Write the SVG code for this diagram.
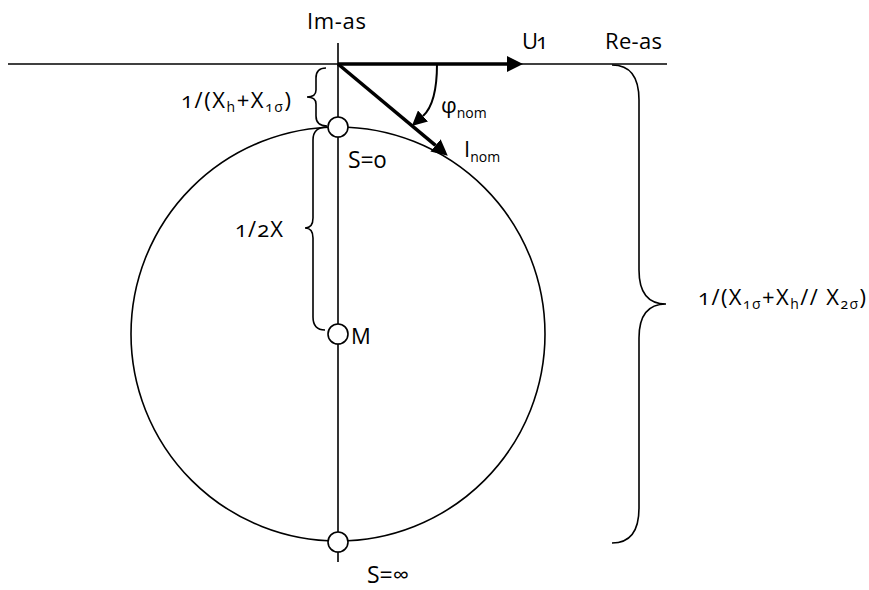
<svg xmlns="http://www.w3.org/2000/svg" width="869" height="590" viewBox="0 0 869 590">
  <style>
    .thin { fill: none; stroke: #000; stroke-width: 1.6; }
    .thick { fill: none; stroke: #000; stroke-width: 3.5; }
    .arc { fill: none; stroke: #000; stroke-width: 2; }
    .pt { fill: #fff; stroke: #000; stroke-width: 1.6; }
    text { font-family: "Open Sans", "Liberation Sans", sans-serif; font-size: 22px; fill: #000; font-variant-numeric: oldstyle-nums; }
    .sub { font-size: 14px; }
    .big { font-size: 23px; }
  </style>
  <defs>
    <marker id="ah" markerUnits="userSpaceOnUse" markerWidth="16" markerHeight="16" viewBox="0 0 15 15" refX="0" refY="7.5" orient="auto">
      <path d="M0,0 L15,7.5 L0,15 z" fill="#000"/>
    </marker>
    <marker id="ahs" markerUnits="userSpaceOnUse" markerWidth="15" markerHeight="15" viewBox="0 0 14 14" refX="0" refY="7" orient="auto">
      <path d="M0,0 L14,7 L0,14 z" fill="#000"/>
    </marker>
  </defs>

  <rect width="869" height="590" fill="#fff"/>

  <g id="axes">
    <line class="thin" x1="8" y1="64" x2="667" y2="64"/>
    <line class="thin" x1="338" y1="43" x2="338" y2="562"/>
    <text x="307" y="29" textLength="59" lengthAdjust="spacing">Im-as</text>
    <text x="605" y="49" textLength="57" lengthAdjust="spacing">Re-as</text>
  </g>

  <g id="circle">
    <circle class="thin" cx="338" cy="334" r="207"/>
  </g>

  <g id="connectors">
    <line class="thick" x1="338" y1="64" x2="507" y2="64" marker-end="url(#ah)"/>
    <line class="thick" x1="338" y1="64" x2="435.5" y2="145.4" marker-end="url(#ah)"/>
    <path class="arc" d="M437,64 C437,90 433,107 423,116" marker-end="url(#ahs)"/>
  </g>

  <g id="point-s0">
    <circle class="pt" cx="338" cy="127" r="10"/>
    <text class="big" x="348" y="168">S=0</text>
  </g>
  <g id="point-m">
    <circle class="pt" cx="338" cy="334" r="10"/>
    <text x="351" y="344">M</text>
  </g>
  <g id="point-sinf">
    <circle class="pt" cx="338" cy="542" r="10"/>
    <text class="big" x="367" y="583">S=∞</text>
  </g>

  <g id="label-u1">
    <text x="522" y="49" textLength="26" lengthAdjust="spacing">U1</text>
  </g>
  <g id="label-phi">
    <text x="441" y="113">φ<tspan class="sub" dy="5">nom</tspan></text>
  </g>
  <g id="label-inom">
    <text x="464" y="157">I<tspan class="sub" dy="5">nom</tspan></text>
  </g>

  <g id="brace-xh">
    <path class="thin" d="M326,68 Q316,68 316,78 L316,90 Q316,97 307,97 Q316,97 316,104 L316,116 Q316,126 327,126"/>
    <text x="181" y="108" textLength="110" lengthAdjust="spacing">1/(X<tspan class="sub" dy="4">h</tspan><tspan dy="-4">+X</tspan><tspan class="sub" dy="4">1σ</tspan><tspan dy="-4">)</tspan></text>
  </g>

  <g id="brace-half">
    <path class="thin" d="M327,127 Q313,127 313,140 L313,218 Q313,228 305,228 Q313,228 313,238 L313,317 Q313,330 325,330"/>
    <text x="235" y="237" textLength="48" lengthAdjust="spacing">1/2X</text>
  </g>

  <g id="brace-total">
    <path class="thin" d="M612,65 Q639,65 639,100 L639,270 Q639,304 666,304 Q639,304 639,338 L639,508 Q639,543 612,543"/>
    <text x="698" y="305" textLength="168" lengthAdjust="spacing">1/(X<tspan class="sub" dy="4">1σ</tspan><tspan dy="-4">+X</tspan><tspan class="sub" dy="4">h</tspan><tspan dy="-4">// X</tspan><tspan class="sub" dy="4">2σ</tspan><tspan dy="-4">)</tspan></text>
  </g>
</svg>
